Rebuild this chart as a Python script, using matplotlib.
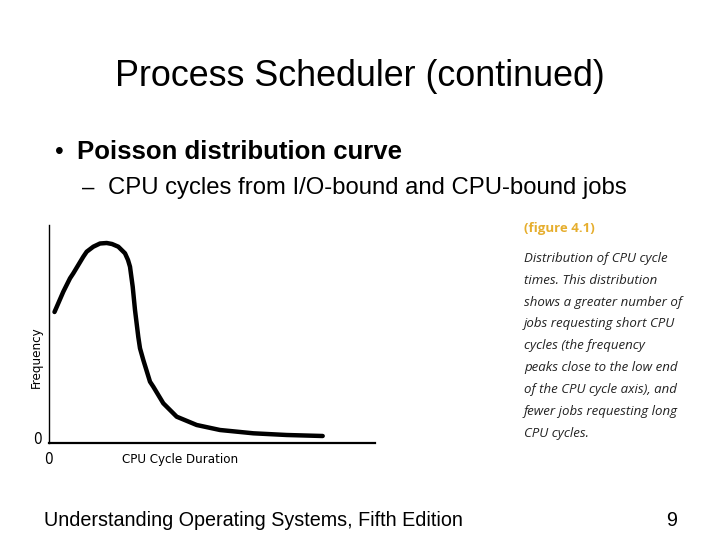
import matplotlib
matplotlib.use("Agg")
import matplotlib.pyplot as plt

# Curve (CPU cycle duration vs frequency, arbitrary units)
duration = [5.5, 14.3, 21, 24.3, 34.3, 37.7, 44.3, 51, 57.7, 63, 69.3, 76, 79, 81,
            83.7, 86, 89.3, 91, 94.3, 101, 104.3, 114.3, 127.7, 147.7, 171, 204.3,
            237.7, 273.7]
frequency = [131, 151.3, 164.7, 169.7, 186.3, 191.3, 196.3, 199.5, 200, 199, 196.3,
             189.7, 183, 176.3, 156.3, 133, 106, 94.7, 83, 61.3, 56.3, 39.7, 26.3, 18,
             13, 9.7, 8, 7]

title = "Process Scheduler (continued)"
bullet = "Poisson distribution curve"
subbullet = "CPU cycles from I/O-bound and CPU-bound jobs"
footer = "Understanding Operating Systems, Fifth Edition"
page = "9"
fig_label = "(figure 4.1)"
caption_lines = [
    "Distribution of CPU cycle",
    "times. This distribution",
    "shows a greater number of",
    "jobs requesting short CPU",
    "cycles (the frequency",
    "peaks close to the low end",
    "of the CPU cycle axis), and",
    "fewer jobs requesting long",
    "CPU cycles.",
]

W, H = 720, 540
fig = plt.figure(figsize=(7.2, 5.4), dpi=100)
fig.patch.set_facecolor("white")

def fx(px):
    return px / W

def fy(py):
    return 1 - py / H

sans = ["Liberation Sans", "DejaVu Sans"]
narrow = ["DejaVu Sans"]

# Axes for the curve
left, right, bottom, top = 49, 375, 443, 225
ax = fig.add_axes([fx(left), fy(bottom), (right - left) / W, (bottom - top) / H])
ax.plot(duration, frequency, color="black", lw=3.2, solid_capstyle="round",
        solid_joinstyle="round")
ax.set_xlim(0, right - left)
ax.set_ylim(0, bottom - top)
for s in ["top", "right"]:
    ax.spines[s].set_visible(False)
ax.spines["left"].set_linewidth(1.0)
ax.spines["bottom"].set_linewidth(1.6)
ax.set_xticks([])
ax.set_yticks([])
ax.patch.set_alpha(0)

# axis labels as in the picture
lab = dict(family=narrow, stretch="condensed", fontsize=9.5, va="center")
fig.text(fx(37), fy(440), "0", ha="center", **{**lab, "fontsize": 11})
fig.text(fx(48), fy(459), "0", ha="center", **{**lab, "fontsize": 11})
fig.text(fx(180), fy(459), "CPU Cycle Duration", ha="center", **lab)
fig.text(fx(36), fy(357), "Frequency", rotation=90, ha="center", **lab)

# Slide texts
fig.text(0.5, fy(76), title, family=sans, fontsize=25.8, ha="center", va="center")
fig.text(fx(55), fy(152), "\u2022", family=sans, fontsize=18, ha="left", va="center")
fig.text(fx(77), fy(152), bullet, family=sans, fontsize=18.5, fontweight="bold",
         ha="left", va="center")
fig.text(fx(82), fy(188), "\u2013", family=sans, fontsize=16, ha="left", va="center")
fig.text(fx(108), fy(188), subbullet, family=sans, fontsize=17.2, ha="left", va="center")
fig.text(fx(44), fy(520), footer, family=sans, fontsize=14.2, ha="left", va="center")
fig.text(fx(677), fy(520), page, family=sans, fontsize=14.2, ha="right", va="center")

# Caption
fig.text(fx(524), fy(228), fig_label, family=["Open Sans", "DejaVu Sans"], fontsize=9.5,
         fontweight="bold", color="#e6ae2e", ha="left", va="center")
cap_y = [258.3, 280, 302.3, 324, 345.7, 367.3, 389.3, 411.7, 433.3]
for yy, line in zip(cap_y, caption_lines):
    fig.text(fx(524), fy(yy), line, family=["Open Sans", "DejaVu Sans"], fontsize=9.5,
             style="italic", color="#222222", ha="left", va="center")

fig.savefig("out.png", dpi=100, facecolor="white")
